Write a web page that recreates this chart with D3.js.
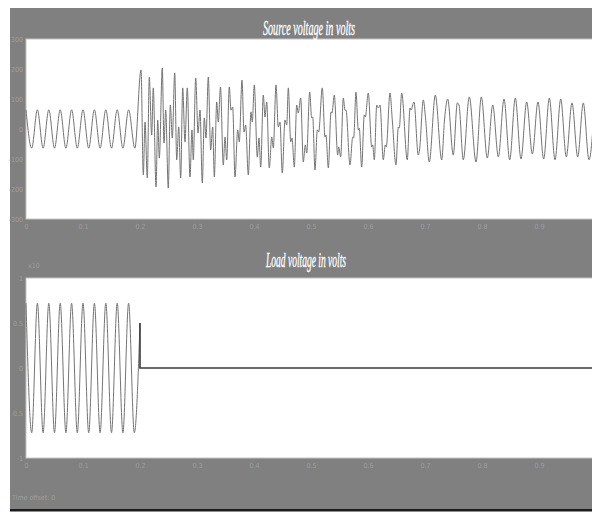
<!DOCTYPE html>
<html>
<head>
<meta charset="utf-8">
<script src="https://cdn.jsdelivr.net/npm/d3@7/dist/d3.min.js"></script>
<style>
  html, body { margin: 0; padding: 0; background: #fff; }
  svg { display: block; }
</style>
</head>
<body>
<svg id="scope" width="592" height="512"></svg>
<script>
// ---- Data: scope traces as [time (s), value] extrema / breakpoints ----

// Source voltage, steady state before the disturbance
const sourcePreFault = [
  [0.00, 64], [0.01, -64], [0.02, 64], [0.03, -64], [0.04, 64],
  [0.05, -64], [0.06, 64], [0.07, -64], [0.08, 64], [0.09, -64],
  [0.10, 64], [0.11, -64], [0.12, 64], [0.13, -64], [0.14, 64],
  [0.15, -64], [0.16, 64], [0.17, -64], [0.18, 64], [0.191, -64]
];

// Source voltage, distorted interval after t = 0.2 s
const sourceTransient = [
  [0.2018, 197], [0.2058, -153], [0.2088, 23], [0.2128, -163], [0.2163, 173],
  [0.2205, -20], [0.2233, 137], [0.2281, -193], [0.2311, 30], [0.2339, -97],
  [0.2391, 203], [0.2421, -47], [0.2451, 63], [0.2496, -197], [0.2532, 80],
  [0.2567, -30], [0.2609, 187], [0.2644, -103], [0.2679, 7], [0.2714, -163],
  [0.2749, 137], [0.2789, -43], [0.2830, 137], [0.2877, -160], [0.2912, -3],
  [0.2935, -103], [0.2977, 170], [0.3018, -13], [0.3053, 63], [0.3093, -180],
  [0.3128, 37], [0.3158, -30], [0.3198, 173], [0.3240, -70], [0.3275, 7],
  [0.3304, -160], [0.3346, 90], [0.3374, 23], [0.3412, 140], [0.3461, -120],
  [0.3491, -27], [0.3521, -103], [0.3567, 140], [0.3596, 63], [0.3626, 73],
  [0.3667, -160], [0.3714, -3], [0.3742, -43], [0.3789, 163], [0.3825, -10],
  [0.3854, 13], [0.3900, -153], [0.3947, 57], [0.3970, 23], [0.4005, 147],
  [0.4058, -93], [0.4088, -30], [0.4118, -127], [0.4163, 113], [0.4193, 40],
  [0.4223, 90], [0.4268, -130], [0.4311, -27], [0.4339, -63], [0.4386, 147],
  [0.4426, 7], [0.4456, 23], [0.4496, -147], [0.4544, 30], [0.4574, 13],
  [0.4602, 137], [0.4644, -43], [0.4667, -30], [0.4707, -127], [0.4749, 80],
  [0.4777, 53], [0.4819, 103], [0.4865, -110], [0.4900, -53], [0.4925, -80],
  [0.4977, 123], [0.5012, 37], [0.5030, 40], [0.5070, -137], [0.5111, -3],
  [0.5135, -10], [0.5198, 137], [0.5246, -27], [0.5263, -20], [0.5304, -130],
  [0.5351, 57], [0.5368, 53], [0.5409, 113], [0.5468, -87], [0.5486, -60],
  [0.5521, -93], [0.5567, 103], [0.5596, 63], [0.5614, 63], [0.5684, -120],
  [0.5732, -27], [0.5749, -30], [0.5789, 123], [0.5830, -3], [0.5847, 3],
  [0.5889, -127], [0.5935, 47], [0.5953, 40], [0.6005, 120], [0.6065, -60],
  [0.6082, -53], [0.6111, -103], [0.6153, 80], [0.6181, 70], [0.6211, 80],
  [0.6268, -103], [0.6304, -53], [0.6321, -60], [0.6386, 120], [0.6426, 30],
  [0.6491, -120], [0.6532, 7], [0.6549, 3], [0.6591, 120], [0.6689, -103],
  [0.6737, 70], [0.6754, 63], [0.6807, 90], [0.6882, -87], [0.6904, -70],
  [0.6970, 97], [0.7009, 37], [0.7075, -110], [0.7181, 113], [0.7293, -103],
  [0.7342, 30], [0.7398, 100], [0.7496, -87], [0.7567, 87], [0.7596, 80],
  [0.7672, -103], [0.7777, 107], [0.7895, -110], [0.7988, 107], [0.8093, -97],
  [0.8188, 80]
];

// Source voltage, settled oscillation near the end of the run
const sourceRecovery = [
  [0.8287, -93], [0.8386, 100], [0.8486, -103], [0.8584, 103], [0.8684, -100],
  [0.8784, 90], [0.8883, -83], [0.8982, 90], [0.9082, -100], [0.9181, 103],
  [0.9281, -103], [0.9381, 100], [0.9479, -93], [0.9579, 87], [0.9679, -93],
  [0.9777, 87], [0.9877, -103], [0.9977, 90]
];

// Load voltage before it is cut off
const loadWave = [
  [0.00, 0.72], [0.01, -0.72], [0.02, 0.72], [0.03, -0.72], [0.04, 0.72],
  [0.05, -0.72], [0.06, 0.72], [0.07, -0.72], [0.08, 0.72], [0.09, -0.72],
  [0.10, 0.72], [0.11, -0.72], [0.12, 0.72], [0.13, -0.72], [0.14, 0.72],
  [0.15, -0.72], [0.16, 0.72], [0.17, -0.72], [0.18, 0.72], [0.19, -0.72],
  [0.20, 0.50]
];

// Load voltage after the cut: step to zero and hold
const loadOff = [[0.20, 0.50], [0.20, 0], [1.00, 0]];

// Axis ticks
const timeTicks = [0, 0.1, 0.2, 0.3, 0.4, 0.5, 0.6, 0.7, 0.8, 0.9];
const timeTickLabels = ["0", "0.1", "0.2", "0.3", "0.4", "0.5", "0.6", "0.7", "0.8", "0.9"];
const sourceTicks = [300, 200, 100, 0, -100, -200, -300];
const loadTicks = [1, 0.5, 0, -0.5, -1];
const loadTickLabels = ["1", "0.5", "0", "-0.5", "-1"];

// ---- Layout ----
const svg = d3.select("#scope");
const W = 592, H = 512;
const frame = { x: 10, y: 8, w: 600, h: 501 };
const plotX0 = 26, plotX1 = 596;
const panels = [
  { title: "Source voltage  in volts", titleX: 309, titleY: 35, titleLen: 92,
    top: 39, bottom: 219, domain: [-300, 300], ticks: sourceTicks,
    tickFmt: d => String(d) },
  { title: "Load voltage in volts", titleX: 306, titleY: 267, titleLen: 80,
    top: 278, bottom: 458, domain: [-1, 1], ticks: loadTicks,
    tickFmt: (d, i) => loadTickLabels[i] }
];

const grey = "#808080";
const tickColor = "#9e9e9e";
const tickFont = "'DejaVu Sans Condensed', 'Liberation Sans Narrow', sans-serif";

// Window background
svg.append("rect").attr("x", 0).attr("y", 0).attr("width", W).attr("height", H).attr("fill", "#fff");
svg.append("rect").attr("x", frame.x).attr("y", frame.y)
  .attr("width", frame.w).attr("height", frame.h).attr("fill", grey);
svg.append("rect").attr("x", frame.x).attr("y", 509).attr("width", frame.w).attr("height", 2.5)
  .attr("fill", "#1c1c1c");

const x = d3.scaleLinear().domain([0, 1]).range([plotX0, plotX1]);

const scales = panels.map(p => {
  const y = d3.scaleLinear().domain(p.domain).range([p.bottom, p.top]);

  // plot area
  svg.append("rect").attr("x", plotX0).attr("y", p.top)
    .attr("width", plotX1 - plotX0).attr("height", p.bottom - p.top)
    .attr("fill", "#fff").attr("stroke", "#c4c4c4").attr("stroke-width", 1);

  // title
  svg.append("text")
    .attr("x", p.titleX).attr("y", p.titleY)
    .attr("text-anchor", "middle")
    .attr("textLength", p.titleLen).attr("lengthAdjust", "spacingAndGlyphs")
    .attr("font-family", "'Liberation Serif', 'DejaVu Serif', serif")
    .attr("font-style", "italic")
    .attr("font-size", 20)
    .attr("fill", "#fff")
    .attr("stroke", "#fff").attr("stroke-width", 0.35)
    .text(p.title);

  // y axis
  const yAxis = svg.append("g")
    .attr("transform", `translate(${plotX0 - 3},0)`)
    .call(d3.axisLeft(y).tickValues(p.ticks).tickFormat(p.tickFmt).tickSize(0).tickPadding(0));
  yAxis.select(".domain").remove();
  yAxis.selectAll("text").attr("fill", tickColor).attr("font-size", 7)
    .attr("font-family", tickFont);

  // x axis
  const xAxis = svg.append("g")
    .attr("transform", `translate(0,${p.bottom + 5})`)
    .call(d3.axisBottom(x).tickValues(timeTicks)
      .tickFormat((d, i) => timeTickLabels[i]).tickSize(0).tickPadding(0));
  xAxis.select(".domain").remove();
  xAxis.selectAll("text").attr("fill", tickColor).attr("font-size", 7)
    .attr("font-family", tickFont);

  return y;
});

// ---- Traces ----
const ySrc = scales[0], yLoad = scales[1];

const smooth = y => d3.line().x(d => x(d[0])).y(d => y(d[1])).curve(d3.curveMonotoneX);

svg.append("path")
  .datum(sourcePreFault.concat(sourceTransient, sourceRecovery))
  .attr("d", smooth(ySrc))
  .attr("fill", "none").attr("stroke", "#747474").attr("stroke-width", 1);

svg.append("path")
  .datum(loadWave)
  .attr("d", smooth(yLoad))
  .attr("fill", "none").attr("stroke", "#747474").attr("stroke-width", 1);

svg.append("path")
  .datum(loadOff)
  .attr("d", d3.line().x(d => x(d[0])).y(d => yLoad(d[1])))
  .attr("fill", "none").attr("stroke", "#3a3a3a").attr("stroke-width", 1.6);

// ---- Scope annotations ----
svg.append("text").attr("x", 28).attr("y", 268)
  .attr("fill", tickColor).attr("font-size", 7).attr("font-family", tickFont)
  .text("x10");

svg.append("text").attr("x", 12).attr("y", 500)
  .attr("fill", tickColor).attr("font-size", 7).attr("font-family", tickFont)
  .text("Time offset:  0");
</script>
</body>
</html>
